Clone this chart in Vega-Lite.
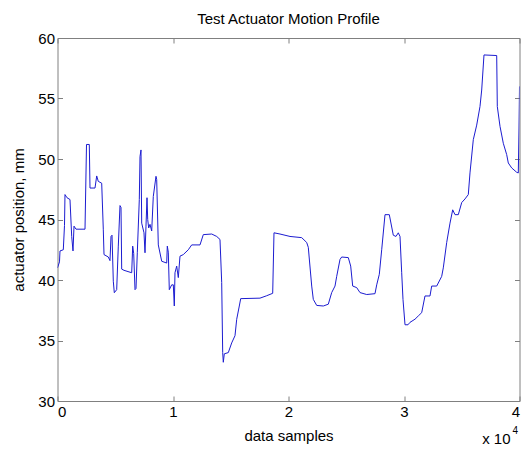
{
  "$schema": "https://vega.github.io/schema/vega-lite/v6.json",
  "autosize": "none",
  "width": 462,
  "height": 363,
  "padding": {"left": 57.5, "top": 38, "right": 6.5, "bottom": 48},
  "background": "white",
  "title": {"text": "Test Actuator Motion Profile", "font": "Liberation Sans", "fontSize": 15, "fontWeight": "normal", "color": "#000000", "offset": 4},
  "config": {
    "view": {"stroke": null},
    "axis": {"labelFont": "Liberation Sans", "titleFont": "Liberation Sans", "labelFontSize": 15, "titleFontSize": 15, "titleFontWeight": "normal", "labelColor": "#000000", "titleColor": "#000000", "grid": false, "domainColor": "#808080", "tickColor": "#808080", "tickSize": -5, "domainWidth": 1}
  },
  "datasets": {
    "profile": [
    {"s": 0, "p": 41.0}, {"s": 173, "p": 41.5}, {"s": 216, "p": 42.4}, {"s": 502, "p": 42.5}, {"s": 606, "p": 44.5},
    {"s": 649, "p": 47.06}, {"s": 823, "p": 46.8}, {"s": 1082, "p": 46.65}, {"s": 1229, "p": 43.6}, {"s": 1342, "p": 42.4},
    {"s": 1429, "p": 44.45}, {"s": 1602, "p": 44.2}, {"s": 2381, "p": 44.2}, {"s": 2511, "p": 51.2}, {"s": 2753, "p": 51.2},
    {"s": 2814, "p": 47.6}, {"s": 3247, "p": 47.6}, {"s": 3394, "p": 48.6}, {"s": 3532, "p": 48.15}, {"s": 3827, "p": 48.0},
    {"s": 3965, "p": 44.2}, {"s": 4026, "p": 42.1}, {"s": 4398, "p": 41.9}, {"s": 4545, "p": 41.6}, {"s": 4632, "p": 43.6},
    {"s": 4719, "p": 43.7}, {"s": 4831, "p": 39.9}, {"s": 4918, "p": 38.95}, {"s": 5125, "p": 39.2}, {"s": 5264, "p": 42.8},
    {"s": 5411, "p": 46.15}, {"s": 5498, "p": 46.0}, {"s": 5558, "p": 40.9}, {"s": 5758, "p": 40.8}, {"s": 6424, "p": 40.6},
    {"s": 6511, "p": 42.8}, {"s": 6597, "p": 42.2}, {"s": 6710, "p": 39.2}, {"s": 6797, "p": 39.3}, {"s": 6909, "p": 42.25},
    {"s": 7082, "p": 46.65}, {"s": 7143, "p": 50.2}, {"s": 7229, "p": 50.75}, {"s": 7290, "p": 44.7}, {"s": 7489, "p": 43.9},
    {"s": 7576, "p": 42.25}, {"s": 7662, "p": 44.45}, {"s": 7749, "p": 46.8}, {"s": 7810, "p": 45.0}, {"s": 7896, "p": 44.3},
    {"s": 8009, "p": 44.6}, {"s": 8156, "p": 44.05}, {"s": 8294, "p": 46.9}, {"s": 8528, "p": 48.57}, {"s": 8589, "p": 48.3},
    {"s": 8727, "p": 42.9}, {"s": 9022, "p": 41.55}, {"s": 9455, "p": 41.4}, {"s": 9507, "p": 42.8}, {"s": 9593, "p": 42.3},
    {"s": 9680, "p": 39.2}, {"s": 9887, "p": 39.6}, {"s": 10026, "p": 39.6}, {"s": 10113, "p": 37.85}, {"s": 10173, "p": 40.6},
    {"s": 10320, "p": 41.15}, {"s": 10459, "p": 40.2}, {"s": 10606, "p": 41.97}, {"s": 10892, "p": 42.1}, {"s": 11325, "p": 42.5},
    {"s": 11619, "p": 42.9}, {"s": 12338, "p": 42.9}, {"s": 12623, "p": 43.75}, {"s": 13351, "p": 43.8}, {"s": 13783, "p": 43.6},
    {"s": 14069, "p": 43.35}, {"s": 14216, "p": 39.8}, {"s": 14303, "p": 34.0}, {"s": 14355, "p": 33.2}, {"s": 14442, "p": 33.9},
    {"s": 14788, "p": 34.0}, {"s": 15082, "p": 34.8}, {"s": 15368, "p": 35.4}, {"s": 15515, "p": 36.75}, {"s": 15740, "p": 37.85},
    {"s": 15861, "p": 38.46}, {"s": 17532, "p": 38.5}, {"s": 18113, "p": 38.7}, {"s": 18632, "p": 38.9}, {"s": 18744, "p": 43.9},
    {"s": 19264, "p": 43.8}, {"s": 20130, "p": 43.6}, {"s": 21143, "p": 43.5}, {"s": 21576, "p": 43.1}, {"s": 21714, "p": 42.7},
    {"s": 22009, "p": 39.5}, {"s": 22147, "p": 38.4}, {"s": 22442, "p": 37.9}, {"s": 23013, "p": 37.85}, {"s": 23446, "p": 38.0},
    {"s": 23740, "p": 38.96}, {"s": 24026, "p": 39.5}, {"s": 24173, "p": 40.3}, {"s": 24459, "p": 41.7}, {"s": 24606, "p": 41.9},
    {"s": 25178, "p": 41.85}, {"s": 25385, "p": 41.15}, {"s": 25558, "p": 39.5}, {"s": 25905, "p": 39.37}, {"s": 26190, "p": 38.96},
    {"s": 26771, "p": 38.8}, {"s": 27489, "p": 38.87}, {"s": 27637, "p": 39.6}, {"s": 27862, "p": 40.47}, {"s": 28069, "p": 42.5},
    {"s": 28355, "p": 45.4}, {"s": 28727, "p": 45.4}, {"s": 29074, "p": 43.7}, {"s": 29307, "p": 43.6}, {"s": 29506, "p": 43.9},
    {"s": 29654, "p": 43.6}, {"s": 29801, "p": 40.6}, {"s": 29913, "p": 38.4}, {"s": 30087, "p": 36.3}, {"s": 30346, "p": 36.3},
    {"s": 30519, "p": 36.5}, {"s": 30952, "p": 36.76}, {"s": 31238, "p": 37.03}, {"s": 31532, "p": 37.3}, {"s": 31818, "p": 38.68},
    {"s": 32251, "p": 38.68}, {"s": 32398, "p": 39.5}, {"s": 32831, "p": 39.5}, {"s": 33264, "p": 40.3}, {"s": 33402, "p": 41.0},
    {"s": 33697, "p": 43.1}, {"s": 33983, "p": 44.7}, {"s": 34216, "p": 45.8}, {"s": 34416, "p": 45.4}, {"s": 34702, "p": 45.4},
    {"s": 34996, "p": 46.4}, {"s": 35282, "p": 46.7}, {"s": 35567, "p": 47.06}, {"s": 35714, "p": 48.85}, {"s": 36000, "p": 51.6},
    {"s": 36294, "p": 52.8}, {"s": 36580, "p": 54.34}, {"s": 36727, "p": 55.7}, {"s": 36926, "p": 58.6}, {"s": 38026, "p": 58.55},
    {"s": 38078, "p": 54.34}, {"s": 38312, "p": 52.7}, {"s": 38598, "p": 51.3}, {"s": 38892, "p": 50.36}, {"s": 39030, "p": 49.67},
    {"s": 39325, "p": 49.26}, {"s": 39758, "p": 48.9}, {"s": 39896, "p": 48.85}, {"s": 39957, "p": 52.56}, {"s": 40000, "p": 56.0}
    ],
    "multiplier": [{"base": "x 10", "exp": "4"}]
  },
  "data": {"name": "profile"},
  "layer": [
    {
      "mark": {"type": "line", "color": "#1c1cd0", "strokeWidth": 1, "clip": true},
      "encoding": {
        "x": {"field": "s", "type": "quantitative", "scale": {"domain": [0, 40000], "nice": false, "zero": false},
          "axis": {"orient": "bottom", "values": [0, 10000, 20000, 30000, 40000], "labelExpr": "datum.value / 10000", "title": "data samples", "labelPadding": 8, "titlePadding": 9}},
        "y": {"field": "p", "type": "quantitative", "scale": {"domain": [30, 60], "nice": false, "zero": false},
          "axis": {"orient": "left", "values": [30, 35, 40, 45, 50, 55, 60], "title": "actuator position, mm", "labelPadding": 8, "titlePadding": 11}}
      }
    },
    {
      "mark": {"type": "line", "opacity": 0},
      "encoding": {
        "x": {"field": "s", "type": "quantitative", "axis": {"orient": "top", "values": [0, 10000, 20000, 30000, 40000], "labels": false, "title": null}},
        "y": {"field": "p", "type": "quantitative", "axis": {"orient": "right", "values": [30, 35, 40, 45, 50, 55, 60], "labels": false, "title": null}}
      }
    },
    {
      "data": {"name": "multiplier"},
      "mark": {"type": "text", "font": "Liberation Sans", "fontSize": 15, "align": "right", "baseline": "middle", "dy": 38, "dx": -9, "color": "#000000", "clip": false},
      "encoding": {"text": {"field": "base"}, "x": {"datum": 40000, "type": "quantitative", "axis": null}, "y": {"datum": 30, "type": "quantitative", "axis": null}}
    },
    {
      "data": {"name": "multiplier"},
      "mark": {"type": "text", "font": "Liberation Sans", "fontSize": 10, "align": "left", "baseline": "middle", "dy": 30, "dx": -7, "color": "#000000", "clip": false},
      "encoding": {"text": {"field": "exp"}, "x": {"datum": 40000, "type": "quantitative", "axis": null}, "y": {"datum": 30, "type": "quantitative", "axis": null}}
    }
  ],
  "resolve": {"axis": {"x": "independent", "y": "independent"}}
}
